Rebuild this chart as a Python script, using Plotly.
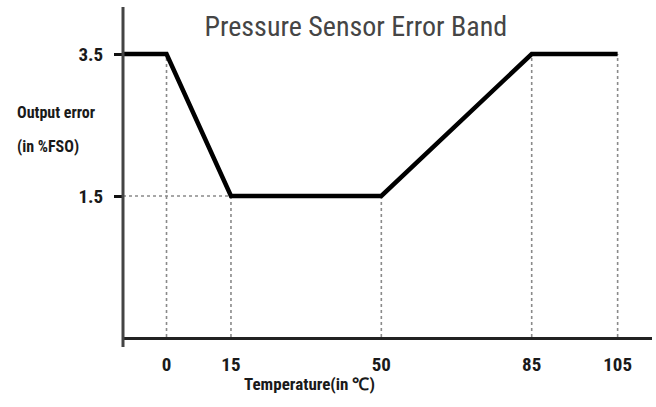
import plotly.graph_objects as go

# Data
temps = [-10, 0, 15, 50, 85, 105]          # first point sits on the left axis edge
errors = [3.5, 3.5, 1.5, 1.5, 3.5, 3.5]
x_ticks = [0, 15, 50, 85, 105]
x_tick_labels = ["0", "15", "50", "85", "105"]
y_ticks = [1.5, 3.5]
y_tick_labels = ["1.5", "3.5"]
guide_x = [0, 15, 50, 85, 105]
guide_y = [3.5, 1.5, 1.5, 3.5, 3.5]

X_RANGE = [-10.13, 113.0]
Y_RANGE = [-0.486, 4.162]

FONT = "Roboto Condensed, Liberation Sans Narrow, Roboto, sans-serif"
GUIDE = dict(color="#8a8a8a", width=1.6, dash="dot")

fig = go.Figure()

# vertical dotted guides from the axis up to the curve
for gx, gy in zip(guide_x, guide_y):
    fig.add_trace(go.Scatter(x=[gx, gx], y=[Y_RANGE[0], gy], mode="lines",
                             line=GUIDE, hoverinfo="skip", showlegend=False))
# horizontal dotted guide at 1.5 from axis to x=15
fig.add_trace(go.Scatter(x=[X_RANGE[0], guide_x[1]], y=[guide_y[1], guide_y[1]],
                         mode="lines", line=GUIDE, hoverinfo="skip", showlegend=False))

# error band curve
fig.add_trace(go.Scatter(x=temps, y=errors, mode="lines",
                         line=dict(color="#000000", width=4.5),
                         showlegend=False, cliponaxis=False))

fig.update_layout(
    width=656, height=407,
    margin=dict(l=123, r=4, t=7, b=70),
    plot_bgcolor="white", paper_bgcolor="white",
    font=dict(family=FONT, color="#1a1a1a"),
    title=dict(text="Pressure Sensor Error Band", x=0.44, xref="paper",
               xanchor="center", y=1 - 26 / 407, yanchor="middle",
               font=dict(family=FONT, size=28, color="#454545")),
    xaxis=dict(range=X_RANGE, tickvals=x_ticks, ticktext=x_tick_labels,
               showgrid=False, zeroline=False, showline=True,
               linecolor="#222222", linewidth=3, ticks="", ticklen=0,
               ticklabelstandoff=8,
               tickfont=dict(family=FONT, size=19, color="#1a1a1a", weight="bold")),
    yaxis=dict(range=Y_RANGE, tickvals=y_ticks, ticktext=y_tick_labels,
               showgrid=False, zeroline=False, showline=False,
               ticks="outside", ticklen=8, tickwidth=3, tickcolor="#111111",
               ticklabelstandoff=7,
               tickfont=dict(family=FONT, size=19, color="#1a1a1a", weight="bold")),
    shapes=[dict(type="line", xref="paper", yref="paper", x0=0, x1=0,
                 y0=-0.03, y1=1, line=dict(color="#444444", width=3))],
    annotations=[
        dict(text="Output error", xref="paper", yref="paper", x=-0.204, y=0.679,
             xanchor="left", yanchor="middle", showarrow=False,
             font=dict(family=FONT, size=16, color="#1a1a1a", weight="bold")),
        dict(text="(in %FSO)", xref="paper", yref="paper", x=-0.204, y=0.576,
             xanchor="left", yanchor="middle", showarrow=False,
             font=dict(family=FONT, size=16, color="#1a1a1a", weight="bold")),
        dict(text="Temperature(in ℃)", xref="paper", yref="paper", x=0.352, y=-0.142,
             xanchor="center", yanchor="middle", showarrow=False,
             font=dict(family=FONT, size=17, color="#1a1a1a", weight="bold")),
    ],
)

fig.write_html("out.html", config={"displayModeBar": False},
               post_script="document.body.style.margin='0';")
